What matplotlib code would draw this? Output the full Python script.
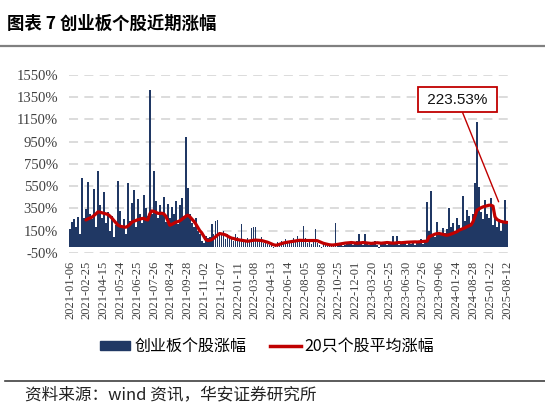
import matplotlib
matplotlib.use('Agg')
import matplotlib.pyplot as plt
from matplotlib.patches import Patch
from matplotlib.lines import Line2D
import numpy as np

nan = np.nan

# 创业板个股涨幅 (%), one bar per stock sample
gains = [
    160, 230, 250, 180, 270, 120, 620, 260, 340, 590,
    300, 250, 520, 180, 685, 380, 260, 500, 220, 320,
    150, 280, 90, 200, 595, 330, 170, 250, 120, 580,
    240, 400, 513, 180, 430, 300, 220, 470, 350, 280,
    1414, 300, 685, 420, 260, 380, 310, 450, 230, 390,
    260, 360, 300, 420, 210, 380, 440, 280, 994, 530,
    300, 220, 180, 260, 150, 120, 60, 40, 100, 80,
    90, 213, 120, 237, 243, 140, 110, 150, 70, 120,
    100, 80, 60, 120, 90, 70, 207, 60, 50, 80,
    60, 171, 183, 183, 70, 50, 90, 40, 60, 30,
    20, 40, -10, 30, 50, 20, 60, 40, 70, 50,
    40, 60, 80, 50, 100, 70, 60, 190, 80, 40,
    50, 30, 60, 168, 40, 20, -10, 30, 20, 10,
    20, 30, 10, 219, 40, 20, 30, 10, 20, 40,
    30, 50, 20, 40, 60, 117, 30, 20, 123, 40,
    20, 40, 30, 60, 20, -10, 30, 50, 40, 20,
    30, 50, 102, 40, 99, 20, 30, 50, 40, 20,
    40, 30, 60, 20, 50, 40, 70, 30, 60, 408,
    150, 504, 120, 90, 228, 140, 110, 170, 130, 160,
    354, 180, 220, 150, 260, 200, 170, 459, 240, 333,
    280, 220, 300, 574, 1129, 543, 320, 250, 423, 300,
    260, 441, 200, 300, 180, 250, 150, 220, 423, 240,
]

# 20只个股平均涨幅 (%)
avg20 = [
    nan, nan, nan, nan, nan, nan, nan, nan, 245, 255,
    262, 270, 285, 300, 318, 315, 310, 306, 300, 295,
    280, 262, 240, 220, 200, 190, 185, 183, 180, 190,
    205, 225, 234, 240, 248, 252, 258, 260, 250, 245,
    300, 327, 322, 315, 305, 304, 306, 300, 280, 240,
    198, 205, 215, 225, 230, 237, 250, 265, 278, 288,
    275, 255, 235, 210, 180, 150, 130, 100, 70, 60,
    62, 68, 80, 95, 110, 123, 120, 116, 110, 100,
    90, 82, 78, 72, 68, 65, 62, 58, 55, 54,
    56, 60, 62, 64, 63, 62, 60, 55, 50, 45,
    38, 30, 22, 18, 20, 26, 32, 38, 42, 45,
    48, 52, 55, 58, 60, 62, 62, 61, 60, 60,
    60, 61, 60, 60, 58, 50, 42, 35, 30, 26,
    22, 20, 20, 22, 25, 28, 32, 35, 37, 38,
    40, 42, 40, 38, 36, 38, 40, 42, 40, 38,
    36, 34, 36, 38, 40, 38, 36, 38, 40, 42,
    40, 38, 36, 38, 40, 42, 40, 42, 44, 45,
    46, 47, 48, 48, 47, 48, 50, 52, 54, 55,
    95, 102, 110, 118, 122, 123, 120, 115, 110, 108,
    112, 118, 125, 132, 140, 153, 160, 168, 175, 185,
    192, 200, 230, 280, 333, 345, 355, 363, 368, 372,
    378, 378, 370, 273, 250, 240, 232, 228, 225, 223.53,
]

date_labels = [
    '2021-01-06', '2021-02-25', '2021-04-15', '2021-05-24', '2021-06-25',
    '2021-07-26', '2021-08-24', '2021-09-28', '2021-11-02', '2021-12-07',
    '2022-01-11', '2022-03-08', '2022-04-13', '2022-06-14', '2022-08-05',
    '2022-09-08', '2022-10-25', '2022-12-01', '2023-03-20', '2023-05-25',
    '2023-06-30', '2023-07-26', '2023-09-06', '2024-01-24', '2024-08-28',
    '2025-01-22', '2025-08-12',
]

yticks = list(range(-50, 1551, 200))

cjk = ['Noto Sans CJK SC', 'DejaVu Sans']
serif = ['Liberation Serif', 'DejaVu Serif']
navy = '#203864'
red = '#C00000'

fig = plt.figure(figsize=(5.45, 4.07), dpi=100)
ax = fig.add_axes([0.1266, 0.379, 0.8054, 0.4366])

x = np.arange(len(gains))
ax.bar(x, gains, width=0.85, color=navy, zorder=2)
ax.plot(x, avg20, color=red, lw=2.3, zorder=3, solid_capstyle='round')

ax.set_xlim(-0.5, len(gains) - 0.5)
ax.set_ylim(-50, 1550)
ax.set_yticks(yticks)
ax.set_yticklabels([f'{v}%' for v in yticks], fontfamily=serif, fontsize=10.5, color='#404040')
ax.yaxis.grid(True, color='#D9D9D9', lw=1.3, ls=(0, (5, 3.5)), zorder=0)
ax.set_axisbelow(True)

tick_pos = np.linspace(0, len(gains) - 1, len(date_labels))
ax.set_xticks(tick_pos)
ax.set_xticklabels(date_labels, rotation=90, fontfamily=serif, fontsize=9, color='#404040')
ax.tick_params(length=0, pad=6)
ax.tick_params(axis='y', pad=8)
for s in ax.spines.values():
    s.set_visible(False)

# annotation box
ax.annotate(' 223.53% ', xy=(len(gains) - 1, avg20[-1]), xytext=(0.8393, 0.755),
            textcoords='figure fraction', ha='center', va='center',
            fontsize=11, family=['Liberation Sans', 'DejaVu Sans'], color='#111111',
            bbox=dict(boxstyle='square,pad=0.35', fc='white', ec=red, lw=1.3),
            arrowprops=dict(arrowstyle='-', color=red, lw=1.0, shrinkA=0, shrinkB=16),
            zorder=5)

# legend
handles = [Patch(color=navy), Line2D([0], [0], color=red, lw=2.5)]
fig.legend(handles, ['创业板个股涨幅', '20只个股平均涨幅'], loc='center',
           bbox_to_anchor=(0.49, 0.148), ncol=2, frameon=False,
           prop={'family': cjk, 'size': 11.5}, handlelength=1.9, handleheight=0.45,
           columnspacing=1.5, handletextpad=0.25)

# title and source
fig.text(0.012, 0.941, '图表 7 创业板个股近期涨幅', fontsize=12.5, fontweight='bold',
         family=cjk, va='center', ha='left')
fig.add_artist(Line2D([0, 1], [0.887, 0.887], color='#808080', lw=1.6))
fig.add_artist(Line2D([0.01, 1], [0.065, 0.065], color='#404040', lw=1.2))
fig.text(0.046, 0.029, '资料来源：wind 资讯，华安证券研究所', fontsize=12,
         family=cjk, va='center', ha='left', color='#222222')

fig.savefig('out.png', dpi=100)
